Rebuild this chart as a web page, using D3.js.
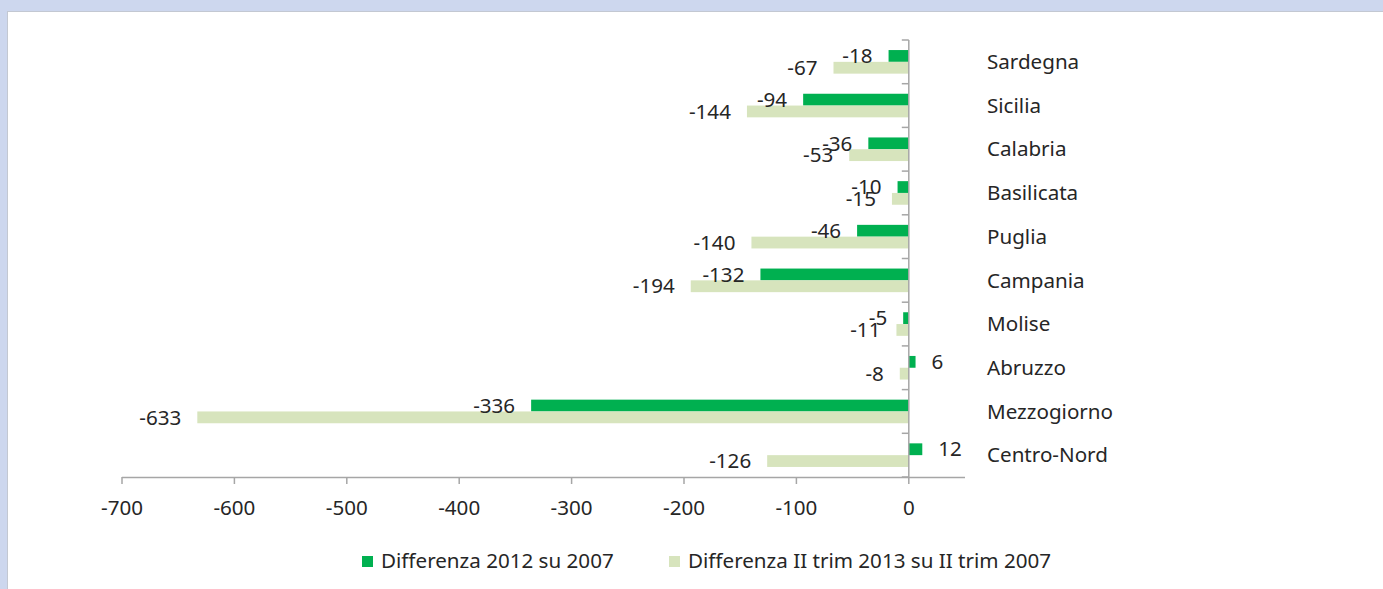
<!DOCTYPE html>
<html lang="it">
<head>
<meta charset="UTF-8">
<title>Differenze per regione</title>
<script src="https://d3js.org/d3.v7.min.js"></script>
<style>
  body { margin: 0; background: #cdd7ee; }
  svg { display: block; }
  text { font-family: "Noto Sans", sans-serif; fill: #262626; }
</style>
</head>
<body>
<svg id="chart"></svg>
<script>
// dati
const regioni = ["Sardegna", "Sicilia", "Calabria", "Basilicata", "Puglia",
                 "Campania", "Molise", "Abruzzo", "Mezzogiorno", "Centro-Nord"];
const diff2012 = [-18, -94, -36, -10, -46, -132, -5, 6, -336, 12];
const diffTrim2013 = [-67, -144, -53, -15, -140, -194, -11, -8, -633, -126];
const xTicks = [-700, -600, -500, -400, -300, -200, -100, 0];
const serie = ["Differenza 2012 su 2007", "Differenza II trim 2013 su II trim 2007"];
const colori = ["#00b050", "#d7e4bd"];

const W = 1383, H = 589;
const FS = 20.6;
const svg = d3.select("#chart").attr("width", W).attr("height", H);

// pannello bianco
svg.append("rect").attr("x", 7.5).attr("y", 11.5)
  .attr("width", W).attr("height", H)
  .attr("fill", "#fff").attr("stroke", "#c3c8d2");

const x = d3.scaleLinear().domain([-700, 50]).range([122, 965]);
const y = d3.scaleBand().domain(regioni).range([40, 477]);
const bw = y.bandwidth();
const barH = bw * 0.27;
const off = (bw - 2 * barH) / 2;

const data = regioni.map((r, i) => ({r, vals: [diff2012[i], diffTrim2013[i]]}));

// barre
const g = svg.append("g");
data.forEach(d => {
  d.vals.forEach((v, k) => {
    const y0 = y(d.r) + off + k * barH;
    g.append("rect")
      .attr("x", Math.min(x(v), x(0)))
      .attr("y", y0)
      .attr("width", Math.abs(x(v) - x(0)))
      .attr("height", barH)
      .attr("fill", colori[k]);
  });
});

// asse x
const axisY = 477;
svg.append("line").attr("x1", x(-700)).attr("x2", x(50))
  .attr("y1", axisY + 0.5).attr("y2", axisY + 0.5)
  .attr("stroke", "#a6a6a6").attr("stroke-width", 1.5);
xTicks.forEach(t => {
  svg.append("line").attr("x1", x(t)).attr("x2", x(t))
    .attr("y1", axisY).attr("y2", axisY + 7)
    .attr("stroke", "#a6a6a6").attr("stroke-width", 1.5);
  svg.append("text").attr("x", x(t)).attr("y", 508)
    .attr("text-anchor", "middle").attr("dy", "0.35em")
    .attr("font-size", FS).text(t);
});

// asse verticale in zero
svg.append("line").attr("x1", x(0)).attr("x2", x(0))
  .attr("y1", 40).attr("y2", axisY)
  .attr("stroke", "#a6a6a6").attr("stroke-width", 1.5);
regioni.concat([null]).forEach(r => {
  const yy = r === null ? y.range()[1] : y(r);
  svg.append("line").attr("x1", x(0) - 7).attr("x2", x(0))
    .attr("y1", yy).attr("y2", yy)
    .attr("stroke", "#a6a6a6").attr("stroke-width", 1.5);
});

// nomi delle regioni
regioni.forEach(r => {
  svg.append("text").attr("x", 987).attr("y", y(r) + bw / 2)
    .attr("dy", "0.35em").attr("font-size", FS).text(r);
});

// etichette dei valori
data.forEach(d => {
  d.vals.forEach((v, k) => {
    const yc = y(d.r) + off + k * barH + barH / 2;
    svg.append("text")
      .attr("x", v < 0 ? x(v) - 16 : x(v) + 16)
      .attr("y", yc).attr("dy", "0.35em")
      .attr("text-anchor", v < 0 ? "end" : "start")
      .attr("font-size", FS).text(v);
  });
});

// legenda
const leg = [{x: 362, tx: 381}, {x: 669, tx: 688}];
serie.forEach((s, k) => {
  svg.append("rect").attr("x", leg[k].x).attr("y", 556)
    .attr("width", 11).attr("height", 11).attr("fill", colori[k]);
  svg.append("text").attr("x", leg[k].tx).attr("y", 561)
    .attr("dy", "0.35em").attr("font-size", FS).text(s);
});
</script>
</body>
</html>
